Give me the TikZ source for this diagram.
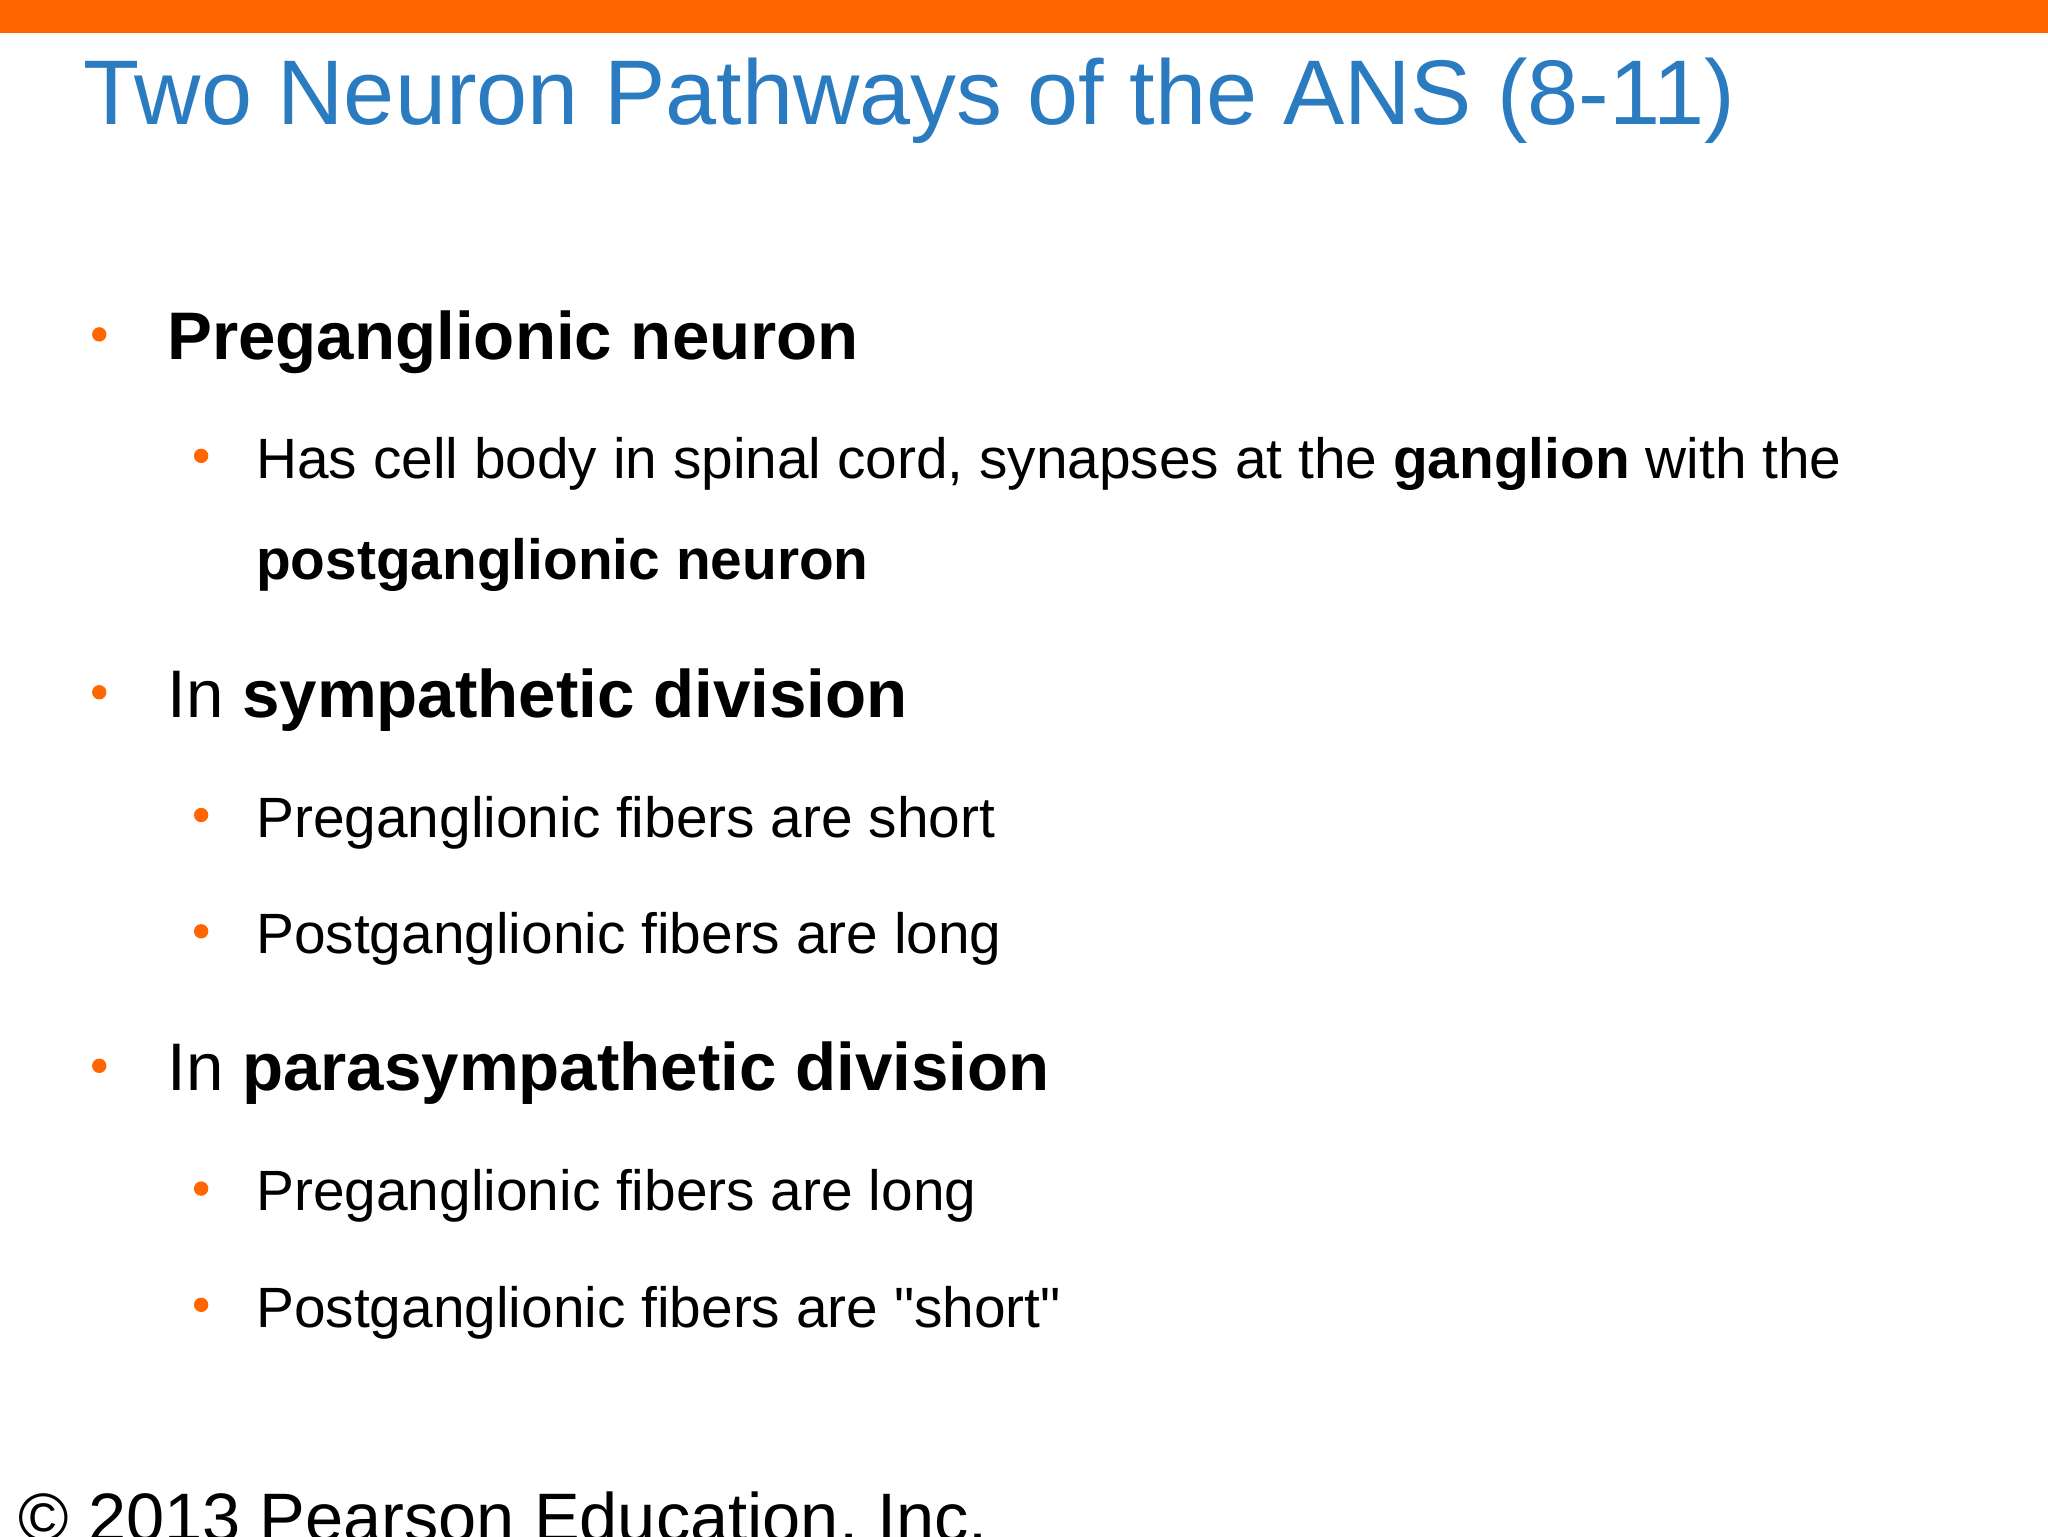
\documentclass[tikz,border=0pt]{standalone}
\usepackage{fontspec}
\setmainfont{Liberation Sans}
\newfontfamily\qfont{Liberation Sans}
\definecolor{bar}{HTML}{FF6600}
\definecolor{ttl}{HTML}{2A7BC0}
\begin{document}
\begin{tikzpicture}[x=1pt,y=-1pt,
  lone/.style={anchor=base west,font=\fontsize{51.5}{60}\selectfont},
  ltwo/.style={anchor=base west,font=\fontsize{43.5}{50}\selectfont},
  bul/.style={circle,fill=bar,inner sep=0pt,minimum size=11pt}]
\useasboundingbox (0,0) rectangle (1568,1176);
\fill[bar] (0,0) rectangle (1568,25);
\node[anchor=base west,text=ttl,font=\fontsize{70.3}{80}\selectfont,inner sep=0pt] (t) at (64,95) {Two Neuron Pathways of the ANS (8-11)};
\node[bul] (b1) at (76,256) {};
\node[lone,inner sep=0pt] (a1) at (128,275) {\textbf{Preganglionic neuron}};
\node[bul] (b2) at (154,349) {};
\node[ltwo,inner sep=0pt] (a2) at (196,366) {Has cell body in spinal cord, synapses at the \textbf{ganglion} with the};
\node[ltwo,inner sep=0pt] (a3) at (196,444) {\textbf{postganglionic neuron}};
\node[bul] (b3) at (76,530) {};
\node[lone,inner sep=0pt] (a4) at (128,549) {In \textbf{sympathetic division}};
\node[bul] (b4) at (154,624) {};
\node[ltwo,inner sep=0pt] (a5) at (196,641) {Preganglionic fibers are short};
\node[bul] (b5) at (154,713) {};
\node[ltwo,inner sep=0pt] (a6) at (196,730) {Postganglionic fibers are long};
\node[bul] (b6) at (76,816) {};
\node[lone,inner sep=0pt] (a7) at (128,835) {In \textbf{parasympathetic division}};
\node[bul] (b7) at (154,910) {};
\node[ltwo,inner sep=0pt] (a8) at (196,927) {Preganglionic fibers are long};
\node[bul] (b8) at (154,999) {};
\node[ltwo,inner sep=0pt] (a9) at (196,1016) {\qfont Postganglionic fibers are "short"};
\node[anchor=base west,inner sep=0pt,font=\fontsize{52.5}{60}\selectfont] (c) at (14,1180) {© 2013 Pearson Education, Inc.};
\end{tikzpicture}
\end{document}
